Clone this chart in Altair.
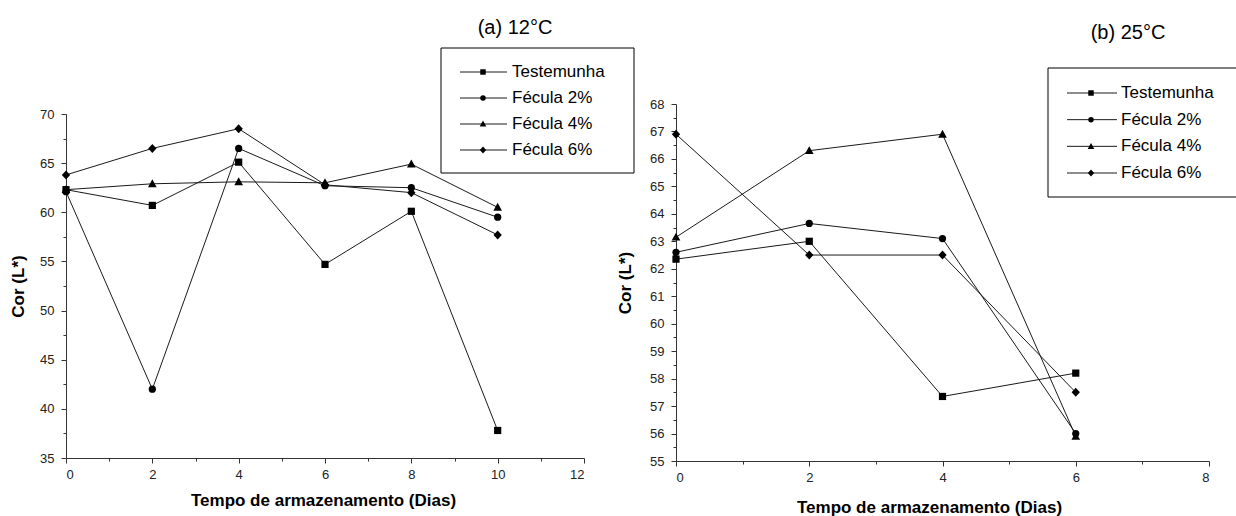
import altair as alt
import pandas as pd

# ---------------- data ----------------
series = ["Testemunha", "Fécula 2%", "Fécula 4%", "Fécula 6%"]

days_a = [0, 2, 4, 6, 8, 10]
a_testemunha = [62.3, 60.7, 65.1, 54.7, 60.1, 37.8]
a_fecula2 = [62.1, 42.0, 66.5, 62.7, 62.5, 59.5]
a_fecula4 = [62.3, 62.9, 63.1, 63.0, 64.9, 60.5]
a_fecula6 = [63.8, 66.5, 68.5, 62.8, 62.0, 57.7]

days_b = [0, 2, 4, 6]
b_testemunha = [62.35, 63.0, 57.35, 58.2]
b_fecula2 = [62.6, 63.65, 63.1, 56.0]
b_fecula4 = [63.15, 66.3, 66.9, 55.9]
b_fecula6 = [66.9, 62.5, 62.5, 57.5]

title_a = "(a) 12°C"
title_b = "(b) 25°C"
x_title = "Tempo de armazenamento (Dias)"
y_title = "Cor (L*)"

a_xticks = [0, 2, 4, 6, 8, 10, 12]
a_xminor = [1, 3, 5, 7, 9, 11]
a_yticks = [35, 40, 45, 50, 55, 60, 65, 70]
a_yminor = [37.5, 42.5, 47.5, 52.5, 57.5, 62.5, 67.5]

b_xticks = [0, 2, 4, 6, 8]
b_xminor = [1, 3, 5, 7]
b_yticks = [55, 56, 57, 58, 59, 60, 61, 62, 63, 64, 65, 66, 67, 68]
b_yminor = [55.5, 56.5, 57.5, 58.5, 59.5, 60.5, 61.5, 62.5, 63.5, 64.5, 65.5, 66.5, 67.5]

# marker shapes (square, circle, larger triangle, larger diamond)
shapes = [
    "square",
    "circle",
    "M0,-1.25L1.2,0.95L-1.2,0.95Z",
    "M0,-1.25L1.15,0L0,1.25L-1.15,0Z",
]


def make_df(days, vals):
    rows = []
    for s, v in zip(series, vals):
        for d, y in zip(days, v):
            rows.append({"dia": d, "valor": y, "serie": s})
    return pd.DataFrame(rows)


df_a = make_df(days_a, [a_testemunha, a_fecula2, a_fecula4, a_fecula6])
df_b = make_df(days_b, [b_testemunha, b_fecula2, b_fecula4, b_fecula6])

FONT = "Liberation Sans"
W, H = 1236, 516
shape_scale = alt.Scale(domain=series, range=shapes)


def panel(df, xdom, xr, ydom, yr, xticks, yticks, xminor, yminor, xtitle_x, xtitle_dy, ytitle_dx):
    xs = alt.Scale(domain=xdom, range=xr, nice=False, zero=False)
    ys = alt.Scale(domain=ydom, range=yr, nice=False, zero=False)
    x_axis_y = yr[0]
    y_axis_x = xr[0]
    xaxis = alt.Axis(orient="bottom", offset=x_axis_y - H, values=xticks, format="d",
                     title=x_title, titleX=xtitle_x, titleY=xtitle_dy,
                     titleBaseline="middle", titleAlign="center",
                     labelPadding=5, tickSize=5, labelOverlap=False)
    yaxis = alt.Axis(orient="left", offset=-y_axis_x, values=yticks, format="d",
                     title=y_title, titleX=ytitle_dx, titleY=(yr[0] + yr[1]) / 2,
                     titleBaseline="middle", titleAlign="center",
                     labelPadding=7, tickSize=5, labelOverlap=False)
    base = alt.Chart(df)
    lines = base.mark_line(color="#1a1a1a", strokeWidth=1).encode(
        x=alt.X("dia:Q", scale=xs, axis=xaxis),
        y=alt.Y("valor:Q", scale=ys, axis=yaxis),
        detail="serie:N",
    )
    pts = base.mark_point(filled=True, color="black", opacity=1, size=52).encode(
        x=alt.X("dia:Q", scale=xs, axis=xaxis),
        y=alt.Y("valor:Q", scale=ys, axis=yaxis),
        shape=alt.Shape("serie:N", scale=shape_scale, legend=None),
    )
    main = alt.layer(lines, pts)
    minor = alt.Chart(df).mark_point(opacity=0).encode(
        x=alt.X("dia:Q", scale=xs,
                axis=alt.Axis(orient="bottom", offset=x_axis_y - H, values=xminor,
                              labels=False, domain=False, tickSize=3, title=None)),
        y=alt.Y("valor:Q", scale=ys,
                axis=alt.Axis(orient="left", offset=-y_axis_x, values=yminor,
                              labels=False, domain=False, tickSize=3, title=None)),
    )
    return main, minor


main_a, minor_a = panel(df_a, [0, 12], [66, 584], [35, 70], [458, 114],
                        a_xticks, a_yticks, a_xminor, a_yminor, 323, 42, -48)
main_b, minor_b = panel(df_b, [0, 8], [676, 1209], [55, 68], [461, 104],
                        b_xticks, b_yticks, b_xminor, b_yminor, 929, 46, -51)

leg_df = pd.DataFrame({"serie": series, "rank": [0, 1, 2, 3]})
one = pd.DataFrame({"k": [0]})


def legend(x0, x1, y0, y1, stub0, stub1, mark_x, text_x, row0, row3):
    ls = alt.Scale(domain=[0, 3], range=[row0, row3], nice=False, zero=False)
    box = alt.Chart(one).mark_rect(fill="white", stroke="black", strokeWidth=1).encode(
        x=alt.value(x0), x2=alt.value(x1), y=alt.value(y0), y2=alt.value(y1))
    base = alt.Chart(leg_df)
    rules = base.mark_rule(color="#1a1a1a", strokeWidth=1).encode(
        x=alt.value(stub0), x2=alt.value(stub1),
        y=alt.Y("rank:Q", scale=ls, axis=None))
    pts = base.mark_point(filled=True, color="black", opacity=1, size=30).encode(
        x=alt.value(mark_x),
        y=alt.Y("rank:Q", scale=ls, axis=None),
        shape=alt.Shape("serie:N", scale=shape_scale, legend=None))
    txt = base.mark_text(align="left", baseline="middle", font=FONT, fontSize=17,
                         color="black").encode(
        x=alt.value(text_x),
        y=alt.Y("rank:Q", scale=ls, axis=None),
        text="serie:N")
    return alt.layer(box, rules, pts, txt)


leg_a = legend(441, 634, 48, 173, 460, 507, 483, 512, 72, 150)
leg_b = legend(1048, 1240, 68, 197, 1067, 1117, 1091, 1121, 93, 173)

titles = alt.Chart(pd.DataFrame({"t": [title_a]})).mark_text(
    font=FONT, fontSize=20, align="center", baseline="middle", color="black"
).encode(text="t:N", x=alt.value(515), y=alt.value(28))
titles_b = alt.Chart(pd.DataFrame({"t": [title_b]})).mark_text(
    font=FONT, fontSize=20, align="center", baseline="middle", color="black"
).encode(text="t:N", x=alt.value(1128), y=alt.value(33))

chart = alt.layer(
    minor_a, main_a, minor_b, main_b, leg_a, leg_b, titles, titles_b
).resolve_scale(
    x="independent", y="independent"
).properties(
    width=W, height=H, autosize=alt.AutoSizeParams(type="none"), padding=0
).configure_view(
    strokeWidth=0
).configure_axis(
    grid=False, labelOverlap=False,
    labelFont=FONT, labelFontSize=13, labelColor="#222222",
    titleFont=FONT, titleFontSize=17, titleFontWeight="bold", titleColor="black",
    domainColor="#333333", tickColor="#333333", domainWidth=1, tickWidth=1,
)

chart.save("out.html", embed_options={"renderer": "svg", "actions": False})
